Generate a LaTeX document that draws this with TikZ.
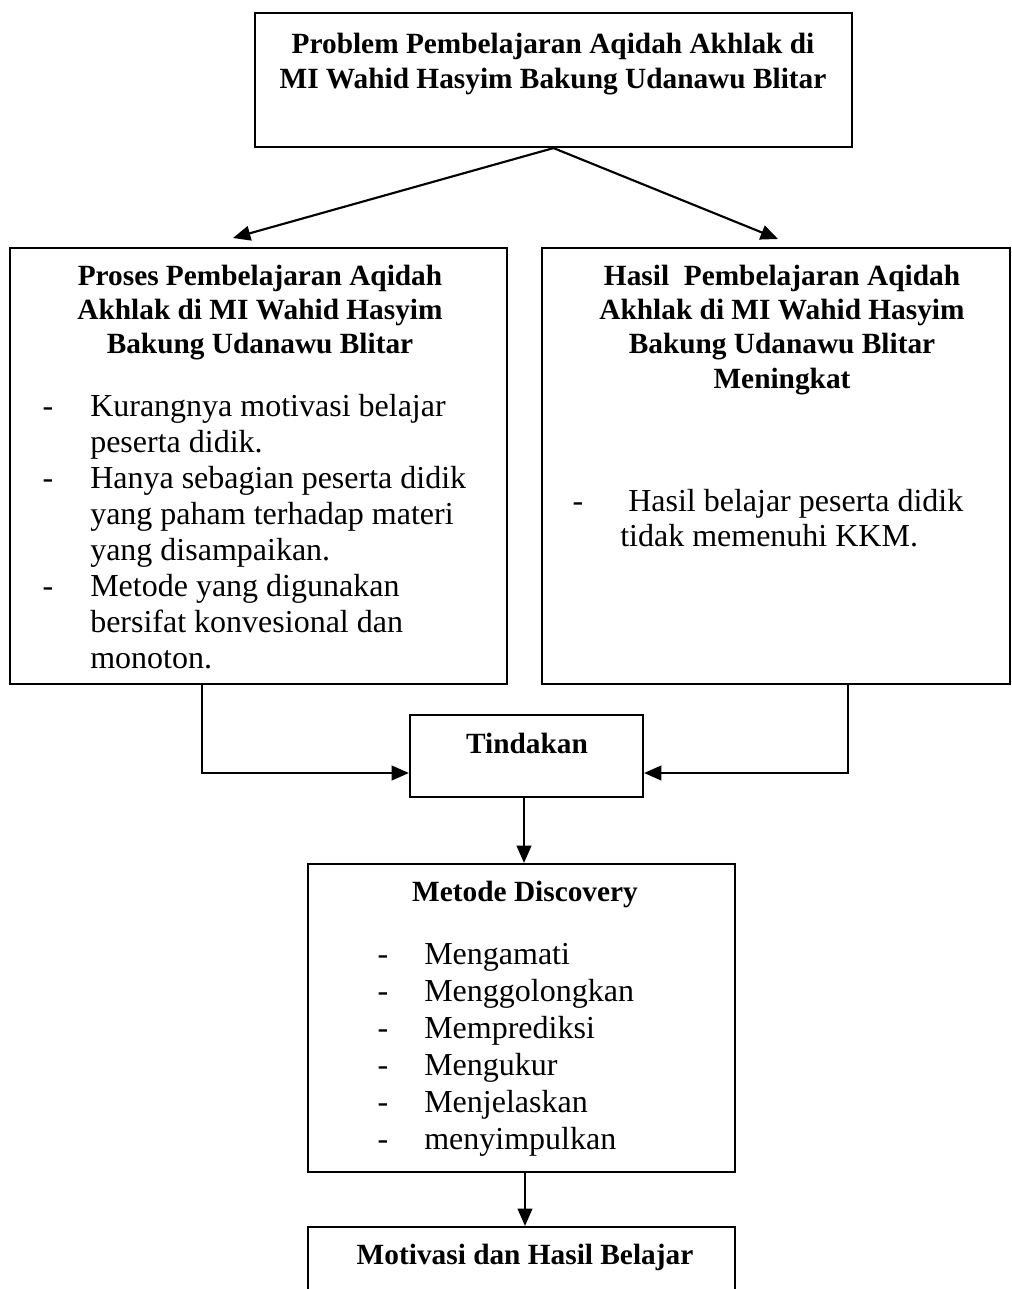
\documentclass[tikz,border=0pt]{standalone}
\usepackage{fontspec}
\setmainfont{Liberation Serif}
\usetikzlibrary{arrows.meta}
\begin{document}
\begin{tikzpicture}[x=0.75pt,y=-0.75pt,
  box/.style={draw,line width=1.6pt,rectangle,inner sep=0pt},
  arr/.style={line width=1.6pt,-{Triangle[length=13pt,width=11pt]}},
  hd/.style={font=\fontsize{22}{26}\selectfont\bfseries,inner sep=0pt,anchor=base},
  tx/.style={font=\fontsize{24}{27}\selectfont,inner sep=0pt,anchor=base west},
  dsh/.style={font=\fontsize{24}{27}\selectfont,inner sep=0pt,anchor=base}]
\useasboundingbox (0,0) rectangle (1012,1289);
\clip (0,0) rectangle (1012,1289);
\fill[white] (0,0) rectangle (1012,1289);

% boxes
\node[box,minimum width=447.75pt,minimum height=100.5pt] (top) at (553.5,80) {};
\node[box,minimum width=372.75pt,minimum height=327pt] (lbox) at (258.5,466) {};
\node[box,minimum width=351pt,minimum height=327pt] (rbox) at (776,466) {};
\node[box,minimum width=174.75pt,minimum height=61.5pt] (tind) at (526.5,756) {};
\node[box,minimum width=320.25pt,minimum height=231pt] (met) at (521.5,1018) {};
\node[box,minimum width=320.25pt,minimum height=90pt] (mot) at (521.5,1287) {};

% top text
\node[hd] (t1) at (553,53) {Problem Pembelajaran Aqidah Akhlak di};
\node[hd] (t2) at (553,88) {MI Wahid Hasyim Bakung Udanawu Blitar};

% left heading
\node[hd] (lh1) at (260,285) {Proses Pembelajaran Aqidah};
\node[hd] (lh2) at (260,319) {Akhlak di MI Wahid Hasyim};
\node[hd] (lh3) at (260,353) {Bakung Udanawu Blitar};

% left list
\node[dsh] (ld1) at (48,416) {-};
\node[dsh] (ld2) at (48,488) {-};
\node[dsh] (ld3) at (48,596) {-};
\node[tx] (l1) at (90,416) {Kurangnya motivasi belajar};
\node[tx] (l2) at (90,452) {peserta didik.};
\node[tx] (l3) at (90,488) {Hanya sebagian peserta didik};
\node[tx] (l4) at (90,524) {yang paham terhadap materi};
\node[tx] (l5) at (90,560) {yang disampaikan.};
\node[tx] (l6) at (90,596) {Metode yang digunakan};
\node[tx] (l7) at (90,632) {bersifat konvesional dan};
\node[tx] (l8) at (90,668) {monoton.};

% right heading
\node[hd] (rh1) at (782,285) {Hasil\ \ Pembelajaran Aqidah};
\node[hd] (rh2) at (782,319) {Akhlak di MI Wahid Hasyim};
\node[hd] (rh3) at (782,353) {Bakung Udanawu Blitar};
\node[hd] (rh4) at (782,388) {Meningkat};

% right list
\node[dsh] (rd1) at (578,511) {-};
\node[tx] (r1) at (628,511) {Hasil belajar peserta didik};
\node[tx] (r2) at (620,546) {tidak memenuhi KKM.};

% tindakan
\node[hd] (tt) at (527,753) {Tindakan};

% metode
\node[hd] (mt) at (525,901) {Metode Discovery};
\foreach \i/\w in {0/Mengamati,1/Menggolongkan,2/Memprediksi,3/Mengukur,4/Menjelaskan,5/menyimpulkan}{
  \node[dsh] (md\i) at (383,964+37*\i) {-};
  \node[tx] (m\i) at (424,964+37*\i) {\w};
}

% motivasi
\node[hd] (mo) at (525,1264) {Motivasi dan Hasil Belajar};

% connectors
\coordinate (la) at (233,238);
\coordinate (ra) at (778,239);
\draw[arr] (top.south) -- (la);
\draw[arr] (top.south) -- (ra);

\coordinate (lk) at (202,773);
\coordinate (rk) at (848,773);
\draw[arr] (lbox.south -| lk) |- (tind.west |- lk);
\draw[arr] (rbox.south -| rk) |- (tind.east |- rk);

\coordinate (c1) at (524,0);
\draw[arr] (tind.south -| c1) -- (met.north -| c1);
\coordinate (c2) at (525,0);
\draw[arr] (met.south -| c2) -- (mot.north -| c2);
\end{tikzpicture}
\end{document}
